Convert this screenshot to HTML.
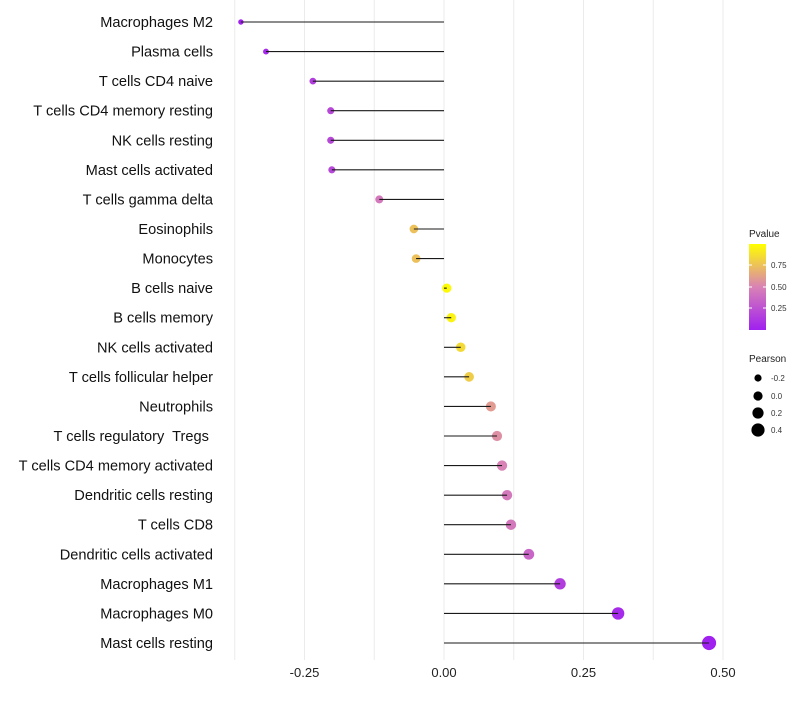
<!DOCTYPE html>
<html><head><meta charset="utf-8"><style>
body{margin:0;background:#fff;font-family:"Liberation Sans",sans-serif;}
svg text{font-family:"Liberation Sans",sans-serif;white-space:pre;}
</style></head><body>
<svg id="chart" width="800" height="700" xmlns="http://www.w3.org/2000/svg">
<defs><linearGradient id="pg" x1="0" y1="1" x2="0" y2="0">
<stop offset="0" stop-color="#A020F0"/><stop offset="0.5" stop-color="#D982B5"/><stop offset="1" stop-color="#FFFF00"/></linearGradient></defs>
<g id="grid"></g><g id="dots"></g><g id="marks"></g><g id="labels"></g>
<g>
<text x="749" y="237" font-size="10" fill="#222">Pvalue</text>
<rect x="749" y="244" width="17" height="86" fill="url(#pg)"/>
<line x1="749" y1="265" x2="752" y2="265" stroke="#fff"/><line x1="763" y1="265" x2="766" y2="265" stroke="#fff"/>
<line x1="749" y1="287" x2="752" y2="287" stroke="#fff"/><line x1="763" y1="287" x2="766" y2="287" stroke="#fff"/>
<line x1="749" y1="308" x2="752" y2="308" stroke="#fff"/><line x1="763" y1="308" x2="766" y2="308" stroke="#fff"/>
<text x="771" y="268" font-size="8" fill="#333">0.75</text>
<text x="771" y="290" font-size="8" fill="#333">0.50</text>
<text x="771" y="311" font-size="8" fill="#333">0.25</text>
</g>
<g>
<text x="749" y="362" font-size="10" fill="#222">Pearson</text>
<circle cx="758" cy="378" r="3.6" fill="#000"/><text x="771" y="381" font-size="8" fill="#333">-0.2</text>
<circle cx="758" cy="396" r="4.6" fill="#000"/><text x="771" y="399" font-size="8" fill="#333">0.0</text>
<circle cx="758" cy="413" r="5.6" fill="#000"/><text x="771" y="416" font-size="8" fill="#333">0.2</text>
<circle cx="758" cy="430" r="6.6" fill="#000"/><text x="771" y="433" font-size="8" fill="#333">0.4</text>
</g>
</svg>
<script>
const categories=["Macrophages M2","Plasma cells","T cells CD4 naive","T cells CD4 memory resting","NK cells resting","Mast cells activated","T cells gamma delta","Eosinophils","Monocytes","B cells naive","B cells memory","NK cells activated","T cells follicular helper","Neutrophils","T cells regulatory  Tregs ","T cells CD4 memory activated","Dendritic cells resting","T cells CD8","Dendritic cells activated","Macrophages M1","Macrophages M0","Mast cells resting"];
const pearson=[-0.364,-0.319,-0.235,-0.203,-0.203,-0.201,-0.116,-0.054,-0.050,0.005,0.013,0.030,0.045,0.084,0.095,0.104,0.113,0.120,0.152,0.208,0.312,0.475];
const pvalue=[0.0,0.05,0.15,0.2,0.2,0.2,0.45,0.75,0.75,0.98,0.95,0.85,0.8,0.6,0.55,0.5,0.45,0.45,0.35,0.15,0.05,0.0];
const xTicks=[-0.25,0,0.25,0.5];
const xTickLabels=["-0.25","0.00","0.25","0.50"];
const gridVals=[-0.375,-0.25,-0.125,0,0.125,0.25,0.375,0.5];
const NS="http://www.w3.org/2000/svg";
const xS=v=>444+v*558;
const yS=i=>22+i*(621/21);
const rS=v=>Math.max(1.5,4.6+5.2*v);
function lerp(a,b,t){return a.map((c,k)=>Math.round(c+(b[k]-c)*t));}
function col(p){const a=[160,32,240],m=[217,130,181],b=[255,255,0];
 const c=p<0.5?lerp(a,m,p/0.5):lerp(m,b,(p-0.5)/0.5);return `rgb(${c})`;}
function mk(t,at,parent){const e=document.createElementNS(NS,t);for(const k in at)e.setAttribute(k,at[k]);parent.appendChild(e);return e;}
const grid=document.getElementById('grid'),marks=document.getElementById('marks'),labels=document.getElementById('labels'),dots=document.getElementById('dots');
gridVals.forEach(v=>{const l=mk('line',{x1:xS(v),x2:xS(v),y1:0,y2:660,stroke:'#ebebeb','stroke-width':1},grid);

});
xTicks.forEach((v,i)=>{const t=mk('text',{x:xS(v),y:677,'font-size':13,'text-anchor':'middle',fill:'#222'},labels);t.textContent=xTickLabels[i];

});
categories.forEach((c,i)=>{const y=yS(i);
 const t=mk('text',{x:213,y:y+5,'font-size':14.6,'text-anchor':'end',fill:'#111'},labels);t.textContent=c;
 
 
 const d=mk('circle',{cx:xS(pearson[i]),cy:y,r:rS(pearson[i]),fill:col(pvalue[i])},dots);
 
 
 const l=mk('line',{x1:xS(0),x2:xS(pearson[i]),y1:y,y2:y,stroke:'#1a1a1a','stroke-width':1.1},marks);
 
 
});
</script>
</body></html>
